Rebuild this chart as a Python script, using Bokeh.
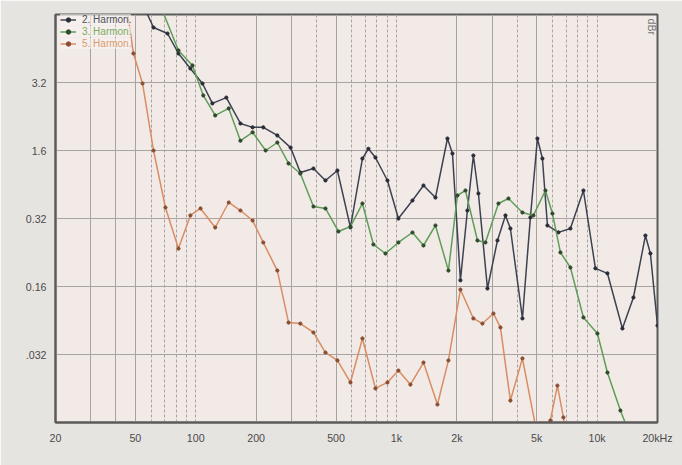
import math
from bokeh.plotting import figure
from bokeh.models import FixedTicker, Legend, LegendItem, Label
from bokeh.embed import file_html
from bokeh.resources import INLINE

# ---- data (frequency in Hz, level) ----
h2_freq = [55, 61.6, 72.3, 82, 94, 108, 121, 142, 167, 192, 217, 255, 297, 332, 386, 443, 508,
           590, 677, 725, 786, 902, 1023, 1202, 1364, 1565, 1796, 1902, 2084, 2258, 2418, 2562,
           2842, 3188, 3494, 3698, 4246, 4652, 5042, 5340, 5656, 6416, 7362, 8548, 9810, 11258,
           13372, 15172, 17412, 18436, 20000]
h2_val = [11.5, 8.02, 7.25, 5.17, 4.01, 3.11, 2.22, 2.45, 1.58, 1.48, 1.48, 1.29, 1.05, 0.689,
          0.737, 0.602, 0.713, 0.272, 0.873, 1.03, 0.888, 0.602, 0.316, 0.429, 0.553, 0.451,
          1.225, 0.95, 0.111, 0.362, 0.919, 0.483, 0.0967, 0.218, 0.333, 0.267, 0.0582, 0.322,
          1.225, 0.873, 0.281, 0.25, 0.267, 0.508, 0.136, 0.125, 0.0491, 0.083, 0.237, 0.175,
          0.0516]

h3_freq = [66.7, 82, 96.3, 109, 125, 146, 167, 192, 223, 255, 290, 332, 386, 443, 514, 590, 677,
           768, 882, 1023, 1202, 1364, 1565, 1816, 2014, 2208, 2534, 2777, 3225, 3617, 4246, 4816,
           5528, 5990, 6566, 7362, 8548, 10038, 11258, 13068, 14320]
h3_val = [11.6, 5.44, 4.22, 2.54, 1.81, 2.04, 1.18, 1.36, 1.0, 1.145, 0.803, 0.677, 0.3875,
          0.3747, 0.2538, 0.276, 0.4076, 0.2036, 0.1748, 0.2107, 0.2495, 0.2002, 0.281, 0.131,
          0.467, 0.508, 0.218, 0.2107, 0.4076, 0.4437, 0.35, 0.333, 0.508, 0.344, 0.178, 0.138,
          0.0592, 0.0451, 0.0233, 0.01225, 0.0087]

h5_freq = [45.2, 48.9, 54.3, 61.6, 70.6, 82, 94, 105.6, 125, 146, 167, 192, 217, 255, 290, 332,
           386, 443, 508, 590, 677, 786, 902, 1023, 1174, 1364, 1601, 1816, 2084, 2418, 2683,
           3044, 3298, 3698, 4246, 4928, 5340, 5852, 6342, 6794, 7032]
h5_val = [11.6, 5.17, 3.11, 1.0, 0.381, 0.19, 0.333, 0.375, 0.2716, 0.4147, 0.362, 0.3056,
          0.2107, 0.131, 0.0543, 0.0534, 0.0459, 0.0327, 0.0286, 0.0197, 0.0415, 0.0178, 0.0197,
          0.0241, 0.019, 0.0276, 0.01356, 0.0286, 0.095, 0.0582, 0.0534, 0.0633, 0.05, 0.0145,
          0.0296, 0.0095, 0.0068, 0.01035, 0.0187, 0.0109, 0.0074]

series_names = ["2. Harmon.", "3. Harmon.", "5. Harmon."]

x_ticks = [20, 50, 100, 200, 500, 1000, 2000, 5000, 10000, 20000]
x_tick_labels = ["20", "50", "100", "200", "500", "1k", "2k", "5k", "10k", "20kHz"]
y_ticks = [10 ** 0.5, 1.0, 10 ** -0.5, 0.1, 10 ** -1.5]
y_tick_labels = ["3.2", "1.6", "0.32", "0.16", ".032"]

grid_solid_x = [30, 40, 50, 200, 300, 500, 2000, 3000, 5000, 20000]
grid_dash_x = [60, 70, 80, 90, 100, 400, 600, 700, 800, 900, 1000, 4000, 6000, 7000, 8000,
               9000, 10000]

# ---- figure ----
p = figure(width=682, height=465, x_axis_type="log", y_axis_type="log",
           x_range=(20, 20000), y_range=(0.01, 10),
           output_backend="svg", toolbar_location=None,
           min_border_left=55, min_border_right=25, min_border_top=14, min_border_bottom=43)

p.background_fill_color = "#f2eae7"
p.border_fill_color = "#e6e4e1"
p.outline_line_color = "#5a5a5a"
p.outline_line_width = 2

# grids
p.xgrid[0].ticker = FixedTicker(ticks=grid_solid_x, minor_ticks=grid_dash_x)
p.xgrid[0].grid_line_color = "#a8a2a0"
p.xgrid[0].grid_line_width = 1
p.xgrid[0].minor_grid_line_color = "#a8a2a0"
p.xgrid[0].minor_grid_line_dash = "3 2"
p.ygrid[0].ticker = FixedTicker(ticks=y_ticks)
p.ygrid[0].grid_line_color = "#a8a2a0"
p.ygrid[0].grid_line_width = 1

# axes
p.xaxis.ticker = FixedTicker(ticks=x_ticks)
p.xaxis.major_label_overrides = {t: l for t, l in zip(x_ticks, x_tick_labels)}
p.yaxis.ticker = FixedTicker(ticks=y_ticks)
p.yaxis.major_label_overrides = {t: l for t, l in zip(y_ticks, y_tick_labels)}
for ax in (p.xaxis[0], p.yaxis[0]):
    ax.axis_line_color = "#5a5a5a"
    ax.axis_line_width = 2
    ax.major_tick_line_color = None
    ax.minor_tick_line_color = None
    ax.major_label_text_font = "Liberation Sans"
    ax.major_label_text_font_size = "8pt"
    ax.major_label_text_color = "#4a4a4a"
    ax.major_label_standoff = 3

colors = ["#3d4252", "#5e9e58", "#d88d62"]
marker_colors = ["#2a2d36", "#2f4a2c", "#8a4e32"]
text_colors = ["#4d4f57", "#7caa5e", "#dc9a6c"]
data = [(h2_freq, h2_val), (h3_freq, h3_val), (h5_freq, h5_val)]

renderers = []
for (fx, fy), c, mc in zip(data, colors, marker_colors):
    lr = p.line(fx, fy, line_color=c, line_width=1.5)
    sr = p.scatter(fx, fy, size=3.2, fill_color=mc, line_color=mc)
    renderers.append((lr, sr))

# legend bottoms (screen px from frame bottom); frame height 408
bottoms = [397, 385, 373]
for (lr, sr), name, tc, b in zip(renderers, series_names, text_colors, bottoms):
    lg = Legend(items=[LegendItem(label=name, renderers=[lr, sr])],
                location=(5, b), padding=0, margin=0, spacing=0,
                label_height=11, glyph_height=11, glyph_width=16, label_standoff=6,
                label_text_font="Liberation Sans", label_text_font_size="7.5pt",
                label_text_color=tc, border_line_color=None,
                background_fill_color="#f7f4f2", background_fill_alpha=0.6)
    p.add_layout(lg)

p.add_layout(Label(x=590, y=404, x_units="screen", y_units="screen", text="dBr",
                   angle=-math.pi / 2, text_font="Liberation Sans", text_font_size="8pt",
                   text_color="#777777"))

html = file_html(p, INLINE)
open("out.html", "w").write(html)
